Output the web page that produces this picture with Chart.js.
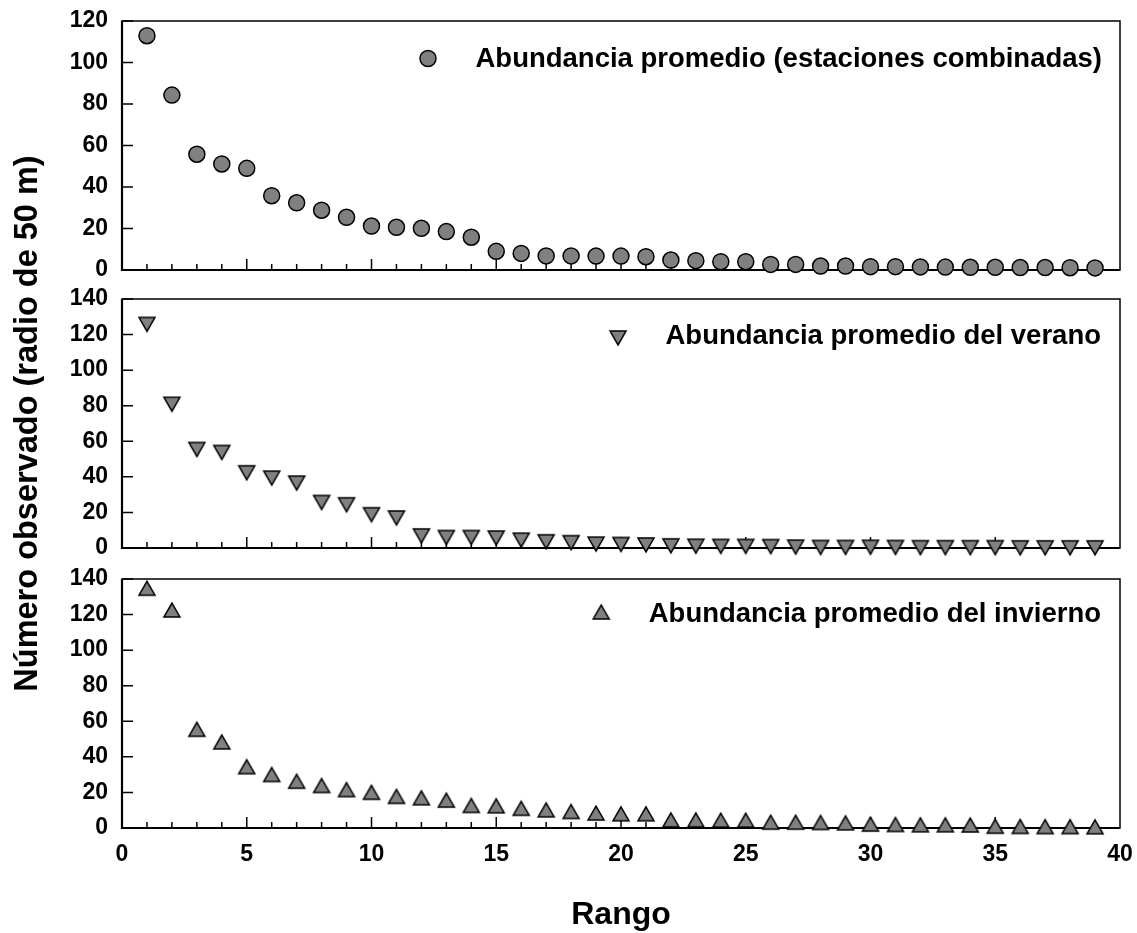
<!DOCTYPE html>
<html lang="es">
<head>
<meta charset="utf-8">
<title>Abundancia por rango</title>
<script src="https://cdn.jsdelivr.net/npm/chart.js@4.4.1/dist/chart.umd.min.js"></script>
<style>
  html, body { margin: 0; padding: 0; background: #fff; }
  #wrap { position: relative; width: 1137px; height: 933px; }
  #wrap canvas { position: absolute; left: 0; top: 0; }
</style>
</head>
<body>
<div id="wrap">
  <canvas id="c1" width="1137" height="933"></canvas>
  <canvas id="c2" width="1137" height="933"></canvas>
  <canvas id="c3" width="1137" height="933"></canvas>
</div>
<script>
// ---------- Datos ----------
const rangos = [1, 2, 3, 4, 5, 6, 7, 8, 9, 10, 11, 12, 13, 14, 15, 16, 17, 18, 19, 20,
  21, 22, 23, 24, 25, 26, 27, 28, 29, 30, 31, 32, 33, 34, 35, 36, 37, 38, 39];

const combinadas = [112.9, 84.3, 55.8, 51.1, 49.0, 35.8, 32.4, 28.8, 25.4, 21.2,
  20.6, 20.1, 18.5, 15.8, 9.0, 8.0, 6.8, 6.8, 6.7, 6.7,
  6.4, 4.8, 4.5, 4.0, 4.0, 2.7, 2.7, 1.9, 1.9, 1.6,
  1.6, 1.5, 1.4, 1.3, 1.3, 1.2, 1.2, 1.1, 1.0];

const verano = [125.7, 80.8, 55.4, 53.7, 42.3, 39.3, 36.5, 25.6, 24.3, 18.7,
  16.9, 6.8, 5.9, 5.9, 5.6, 4.4, 3.5, 3.0, 2.2, 2.0,
  1.7, 1.2, 1.0, 0.9, 0.9, 0.8, 0.5, 0.3, 0.3, 0.4,
  0.3, 0.2, 0.2, 0.2, 0.2, 0.1, 0.1, 0.1, 0.1];

const invierno = [134.8, 122.6, 55.5, 48.4, 34.5, 30.1, 26.3, 23.9, 21.6, 20.1,
  17.8, 17.0, 15.7, 12.7, 12.5, 11.1, 10.2, 9.3, 8.4, 8.0,
  8.0, 4.6, 4.6, 4.4, 4.4, 3.3, 3.3, 3.1, 2.9, 2.2,
  2.0, 1.8, 1.8, 1.7, 1.0, 0.9, 0.8, 0.8, 0.7];

const xTicks = [0, 5, 10, 15, 20, 25, 30, 35, 40];
const yTicks1 = [0, 20, 40, 60, 80, 100, 120];
const yTicks23 = [0, 20, 40, 60, 80, 100, 120, 140];

const leyendas = [
  "Abundancia promedio (estaciones combinadas)",
  "Abundancia promedio del verano",
  "Abundancia promedio del invierno",
];

// ---------- Estilo ----------
const FONT = "'Liberation Sans', Arial, Helvetica, sans-serif";
const GRIS = "#808080";
const NEGRO = "#000";
Chart.defaults.font.family = FONT;
Chart.defaults.color = NEGRO;

// triangulos centrados por su caja (como SigmaPlot)
function triangulo(arriba) {
  const c = document.createElement("canvas");
  c.width = 22; c.height = 20;
  const g = c.getContext("2d");
  const lado = 16, h = lado * Math.sqrt(3) / 2;
  const cx = c.width / 2, top = (c.height - h) / 2;
  g.beginPath();
  if (arriba) {
    g.moveTo(cx, top); g.lineTo(cx + lado / 2, top + h); g.lineTo(cx - lado / 2, top + h);
  } else {
    g.moveTo(cx - lado / 2, top); g.lineTo(cx + lado / 2, top); g.lineTo(cx, top + h);
  }
  g.closePath();
  g.fillStyle = GRIS; g.fill();
  g.lineWidth = 1.5; g.strokeStyle = NEGRO; g.stroke();
  return c;
}
const triArriba = triangulo(true);
const triAbajo = triangulo(false);

// marco + marcas hacia dentro
const marcoPlugin = {
  id: "marco",
  beforeDatasetsDraw(chart) {
    const { ctx, chartArea: a, scales: { x, y } } = chart;
    ctx.save();
    ctx.strokeStyle = NEGRO;
    ctx.lineWidth = 1.5;
    ctx.strokeRect(a.left, a.top, a.right - a.left, a.bottom - a.top);
    ctx.lineWidth = 2.2;
    ctx.beginPath();
    ctx.moveTo(a.left, a.top);
    ctx.lineTo(a.left, a.bottom);
    ctx.lineTo(a.right, a.bottom);
    ctx.stroke();
    ctx.lineWidth = 1.5;
    ctx.beginPath();
    for (const r of rangos) {
      const px = x.getPixelForValue(r);
      const len = r % 5 === 0 ? 11 : 6;
      ctx.moveTo(px, a.bottom);
      ctx.lineTo(px, a.bottom - len);
    }
    for (const t of y.ticks) {
      const py = y.getPixelForValue(t.value);
      ctx.moveTo(a.left, py);
      ctx.lineTo(a.left + 11, py);
    }
    ctx.stroke();
    ctx.restore();
  },
};

// leyenda dentro del area
const leyendaPlugin = {
  id: "leyenda",
  afterDatasetsDraw(chart, args, opts) {
    const { ctx, chartArea: a } = chart;
    const ds = chart.data.datasets[0];
    ctx.save();
    ctx.font = "bold 27.5px " + FONT;
    ctx.fillStyle = NEGRO;
    ctx.textAlign = "right";
    ctx.textBaseline = "middle";
    const xr = a.right - opts.derecha;
    const yt = a.top + opts.textoY;
    ctx.fillText(opts.texto, xr, yt);
    const w = ctx.measureText(opts.texto).width;
    const mx = xr - w - 47.5;
    const my = a.top + opts.marcaY;
    if (ds.pointStyle === "circle") {
      ctx.beginPath();
      ctx.arc(mx, my, ds.pointRadius, 0, Math.PI * 2);
      ctx.fillStyle = GRIS;
      ctx.fill();
      ctx.lineWidth = ds.pointBorderWidth;
      ctx.strokeStyle = NEGRO;
      ctx.stroke();
    } else {
      const img = ds.pointStyle;
      ctx.drawImage(img, mx - img.width / 2, my - img.height / 2);
    }
    ctx.restore();
  },
};

function puntos(vals) {
  return rangos.map((r, i) => ({ x: r, y: vals[i] }));
}

// sin relleno extra por las etiquetas, el area queda donde se pide
function sinRelleno(s) {
  s.paddingLeft = 0; s.paddingRight = 0;
  s.paddingTop = 0; s.paddingBottom = 0;
}

function crearPanel(id, cfg) {
  const xAxis = {
    type: "linear",
    min: 0,
    max: 40,
    afterBuildTicks: (s) => { s.ticks = xTicks.map((v) => ({ value: v })); },
    grid: { display: false, drawTicks: false },
    border: { display: false },
    ticks: {
      display: cfg.xLabels,
      font: { size: 23, weight: "bold" },
      padding: 13,
      maxRotation: 0,
      autoSkip: false,
    },
    afterFit: (s) => { s.height = cfg.xHeight; sinRelleno(s); },
  };
  if (cfg.xTitle) {
    xAxis.title = {
      display: true,
      text: cfg.xTitle,
      font: { size: 32, weight: "bold", lineHeight: 1.125 },
      padding: { top: 0, bottom: 0 },
      color: NEGRO,
    };
  }
  const yAxis = {
    type: "linear",
    min: 0,
    max: cfg.yMax,
    afterBuildTicks: (s) => { s.ticks = cfg.yTicks.map((v) => ({ value: v })); },
    grid: { display: false, drawTicks: false },
    border: { display: false },
    ticks: { font: { size: 23, weight: "bold" }, padding: 14 },
    afterFit: (s) => { s.width = 122; sinRelleno(s); },
  };
  if (cfg.yTitle) {
    yAxis.title = {
      display: true,
      text: cfg.yTitle,
      font: { size: 32.5, weight: "bold", lineHeight: 1.125 },
      padding: { top: 9.5, bottom: 0 },
      color: NEGRO,
    };
  }
  return new Chart(document.getElementById(id), {
    type: "scatter",
    data: {
      datasets: [{
        label: cfg.leyenda,
        data: puntos(cfg.valores),
        pointStyle: cfg.marca,
        pointRadius: 8,
        pointHoverRadius: 8,
        pointBorderWidth: 1.5,
        pointBackgroundColor: GRIS,
        pointBorderColor: NEGRO,
        clip: false,
      }],
    },
    options: {
      responsive: false,
      animation: false,
      devicePixelRatio: 1,
      layout: { padding: { left: 0, right: 17, top: cfg.top, bottom: cfg.bottom } },
      scales: { x: xAxis, y: yAxis },
      plugins: {
        legend: { display: false },
        tooltip: { enabled: false },
        leyenda: { texto: cfg.leyenda, derecha: cfg.derecha, textoY: cfg.textoY, marcaY: cfg.marcaY },
      },
    },
    plugins: [marcoPlugin, leyendaPlugin],
  });
}

crearPanel("c1", {
  valores: combinadas, marca: "circle", leyenda: leyendas[0],
  yMax: 120, yTicks: yTicks1, top: 21, bottom: 663, xHeight: 0, xLabels: false,
  derecha: 18, textoY: 38, marcaY: 37.5,
});
crearPanel("c2", {
  valores: verano, marca: triAbajo, leyenda: leyendas[1],
  yMax: 140, yTicks: yTicks23, top: 299, bottom: 385, xHeight: 0, xLabels: false,
  yTitle: "Número observado (radio de 50 m)",
  derecha: 19, textoY: 37, marcaY: 39,
});
crearPanel("c3", {
  valores: invierno, marca: triArriba, leyenda: leyendas[2],
  yMax: 140, yTicks: yTicks23, top: 579, bottom: 0, xHeight: 105, xLabels: true,
  xTitle: "Rango",
  derecha: 19, textoY: 35, marcaY: 33,
});
</script>
</body>
</html>
